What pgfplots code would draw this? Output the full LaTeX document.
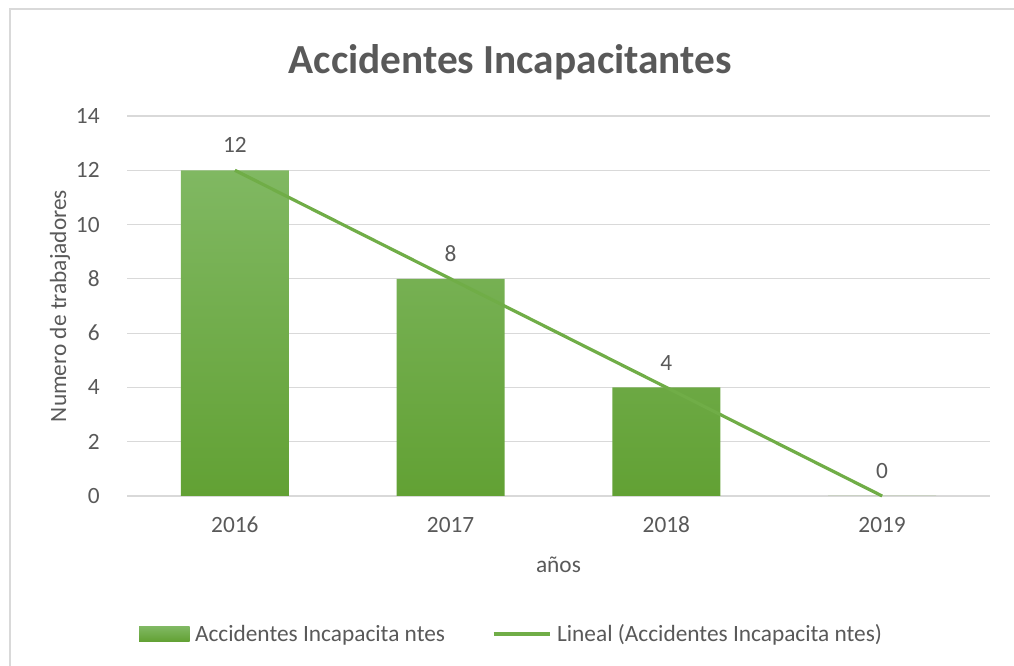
\documentclass[border=0pt]{standalone}
\usepackage{pgfplots}
\pgfplotsset{compat=1.18}
\usepackage{fontspec}
\setmainfont{Carlito}
\definecolor{txt}{HTML}{595959}
\definecolor{gridc}{HTML}{D9D9D9}
\definecolor{gtop}{HTML}{80B862}
\definecolor{gbot}{HTML}{62A134}
\definecolor{trend}{HTML}{70AD47}
\begin{document}
\begin{tikzpicture}
\path[use as bounding box] (0,0) rectangle (760.5pt,499.5pt);
\draw[gridc, line width=1.5pt] (7.5pt,0pt) -- (7.5pt,492.75pt) -- (760.5pt,492.75pt);
\begin{axis}[
  at={(95.25pt,127.5pt)}, anchor=south west,
  scale only axis, width=647.25pt, height=285pt,
  xmin=-0.5, xmax=3.5, ymin=0, ymax=14,
  xtick={0,1,2,3}, xticklabels={2016,2017,2018,2019},
  ytick={0,2,4,6,8,10,12,14},
  /pgf/number format/assume math mode=true,
  axis line style={draw=none},
  major tick length=0pt,
  ymajorgrids, grid style={gridc, line width=0.9pt},
  every tick label/.append style={font=\fontsize{17.5pt}{20pt}\selectfont, text=txt},
  xticklabel style={anchor=base, yshift=-27.4pt},
  yticklabel style={anchor=base east, xshift=-17pt, yshift=-5.6pt},
  xlabel={años}, ylabel={Numero de trabajadores},
  label style={font=\fontsize{17.5pt}{20pt}\selectfont, text=txt},
  xlabel style={at={(axis description cs:0.5,-0.1816)}, anchor=center},
  ylabel style={at={(axis description cs:-0.0776,0.5)}, anchor=center, rotate=0},
  title={Accidentes Incapacitantes},
  title style={font=\fontsize{31pt}{36pt}\selectfont\bfseries, text=txt, at={(axis description cs:0.444,1.12)}, anchor=center},
  legend style={at={(axis description cs:0.446,-0.3632)}, anchor=center, draw=none, fill=none,
    font=\fontsize{17.5pt}{20pt}\selectfont, text=txt, legend columns=2,
    /tikz/every odd column/.append style={column sep=2pt},
    /tikz/every even column/.append style={column sep=33pt}},
  legend cell align=left,
  clip=false,
]
\addplot[ybar, bar width=81pt, draw=none, top color=gtop, bottom color=gbot,
  nodes near coords, nodes near coords style={font=\fontsize{17.5pt}{20pt}\selectfont, text=txt, anchor=base, yshift=13pt},
  legend image code/.code={\fill[top color=gtop, bottom color=gbot] (0pt,-5.5pt) rectangle (38pt,5.5pt);}]
  coordinates {(0,12) (1,8) (2,4) (3,0)};
\addlegendentry{Accidentes Incapacita ntes}
\addplot[trend, line width=2.4pt, no marks,
  legend image code/.code={\draw[trend, line width=3pt] (0pt,0pt) -- (42pt,0pt);}]
  coordinates {(0,12) (1,8) (2,4) (3,0)};
\addlegendentry{Lineal (Accidentes Incapacita ntes)}
\end{axis}
\end{tikzpicture}
\end{document}
